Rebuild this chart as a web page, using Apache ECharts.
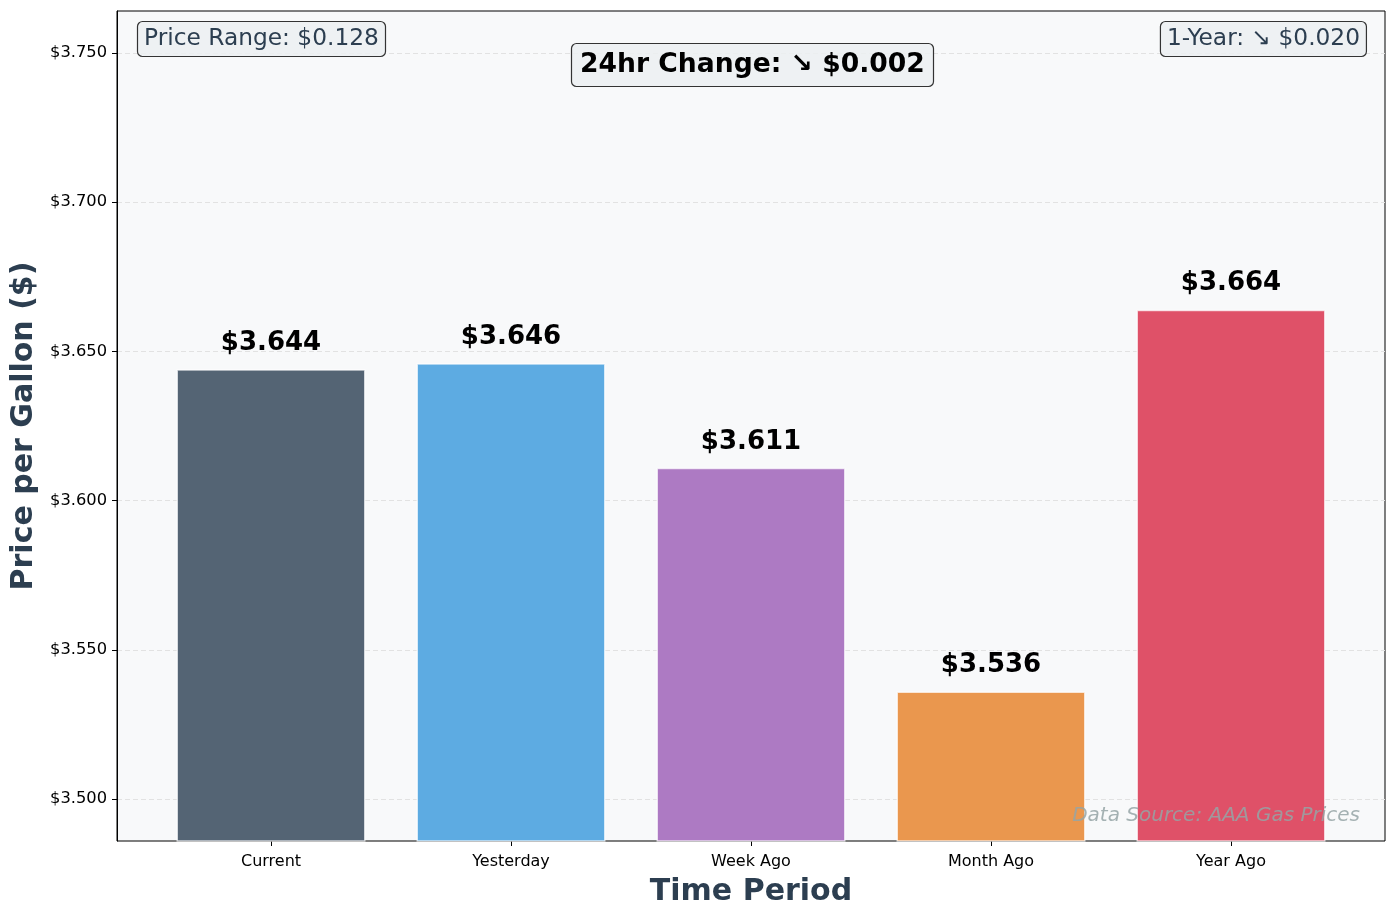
<!DOCTYPE html>
<html>
<head>
<meta charset="utf-8">
<script src="https://cdn.jsdelivr.net/npm/echarts@6/dist/echarts.min.js"></script>
<style>
html,body{margin:0;padding:0;background:#ffffff;}
#chart{width:1397px;height:918px;}
</style>
</head>
<body>
<div id="chart"></div>
<script>
const categories = ['Current', 'Yesterday', 'Week Ago', 'Month Ago', 'Year Ago'];
const prices = [3.644, 3.646, 3.611, 3.536, 3.664];
const barColors = ['#546474', '#5dabe2', '#ad7ac3', '#ea974e', '#df5168'];
const yTicks = [3.5, 3.55, 3.6, 3.65, 3.7, 3.75];
const yMin = 3.4859;
const yMax = 3.7641;
const priceRangeText = 'Price Range: $0.128';
const changeText = '24hr Change: ↘ $0.002';
const yearText = '1-Year: ↘ $0.020';
const sourceText = 'Data Source: AAA Gas Prices';

const FONT = 'DejaVu Sans';
const chart = echarts.init(document.getElementById('chart'), null, {renderer: 'canvas'});

const boxStyle = {
  backgroundColor: 'rgba(236,240,241,0.85)',
  borderColor: '#333333',
  borderWidth: 1.2,
  borderRadius: 5
};

const option = {
  animation: false,
  backgroundColor: '#ffffff',
  title: [
    Object.assign({
      text: priceRangeText, left: 137, top: 21, padding: [6, 7, 6, 7],
      textStyle: {fontFamily: FONT, fontSize: 23.3, fontWeight: 'normal', color: '#2c3e50', lineHeight: 24}
    }, boxStyle),
    Object.assign({
      text: changeText, left: 571, top: 44, padding: [8, 9],
      textStyle: {fontFamily: FONT, fontSize: 26.6, fontWeight: 'bold', color: '#000000', lineHeight: 26}
    }, boxStyle),
    Object.assign({
      text: yearText, right: 30, top: 21, padding: [6, 7, 6, 7],
      textStyle: {fontFamily: FONT, fontSize: 23.3, fontWeight: 'normal', color: '#2c3e50', lineHeight: 24}
    }, boxStyle),
    {
      text: sourceText, right: 37, top: 804, padding: 0,
      textStyle: {fontFamily: FONT, fontSize: 20, fontStyle: 'italic', fontWeight: 'normal', color: 'rgba(149,165,166,0.85)', lineHeight: 24}
    }
  ],
  grid: [
    {left: 117, right: 12, top: 11, bottom: 77, show: true, backgroundColor: '#f8f9fa', borderColor: '#000000', borderWidth: 1, containLabel: false},
    {left: 151, width: 1200, top: 11, bottom: 77, show: false, containLabel: false}
  ],
  xAxis: [
    {gridIndex: 0, type: 'value', min: 0, max: 1, show: false},
    {
      gridIndex: 1, type: 'category', data: categories,
      axisLine: {show: false},
      axisTick: {show: true, alignWithLabel: true, length: 5, lineStyle: {color: '#000000', width: 1}},
      axisLabel: {fontFamily: FONT, fontSize: 16, color: '#000000', margin: 13},
      name: 'Time Period', nameLocation: 'middle', nameGap: 36,
      nameTextStyle: {fontFamily: FONT, fontSize: 30, fontWeight: 'bold', color: '#2c3e50'}
    }
  ],
  yAxis: [
    {
      gridIndex: 0, type: 'value', min: yMin, max: yMax,
      axisLine: {show: true, lineStyle: {color: '#000000', width: 1}},
      axisTick: {show: true, length: 5, customValues: yTicks, lineStyle: {color: '#000000', width: 1}},
      axisLabel: {fontFamily: FONT, fontSize: 16.3, color: '#000000', margin: 10, customValues: yTicks,
        formatter: v => '$' + v.toFixed(3)},
      splitLine: {show: true, lineStyle: {color: '#e2e2e2', type: [5, 3], width: 1}},
      name: 'Price per Gallon ($)', nameLocation: 'middle', nameGap: 77, nameRotate: 90,
      nameTextStyle: {fontFamily: FONT, fontSize: 30, fontWeight: 'bold', color: '#2c3e50'}
    },
    {gridIndex: 1, type: 'value', min: yMin, max: yMax, show: false, splitLine: {show: false}}
  ],
  series: [
    {
      type: 'bar', xAxisIndex: 1, yAxisIndex: 1,
      barWidth: 189,
      data: prices.map((p, i) => ({value: p, itemStyle: {color: barColors[i]}})),
      itemStyle: {borderColor: 'rgba(255,255,255,0.7)', borderWidth: 1.5},
      label: {
        show: true, position: 'top', distance: 13,
        fontFamily: FONT, fontSize: 26, fontWeight: 'bold', color: '#000000',
        formatter: p => '$' + p.value.toFixed(3)
      },
      z: 2
    }
  ]
};
chart.setOption(option);
</script>
</body>
</html>
